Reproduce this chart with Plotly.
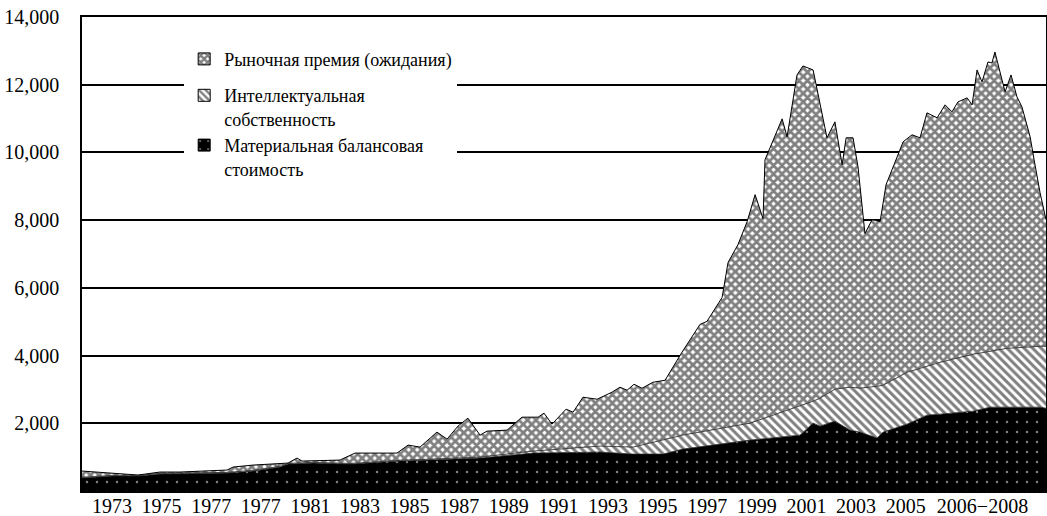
import plotly.graph_objects as go

# ---- Data (billions) ----
# Tangible book value (bottom layer) and intellectual property (middle layer)
book_years = [1971.79, 1973.0, 1974.05, 1974.94, 1977.64, 1978.69, 1979.77, 1980.10, 1981.10, 1982.60,
              1984.61, 1985.82, 1987.84, 1989.98, 1992.68, 1994.01, 1995.22, 1996.02, 1998.73, 2000.74,
              2001.27, 2001.55, 2002.15, 2002.75, 2003.16, 2003.85, 2004.09, 2005.06, 2005.86, 2006.39,
              2007.72, 2008.40, 2009.09, 2010.42, 2010.66]
tangible_book = [383, 442, 442, 501, 530, 589, 707, 796, 825, 796,
                 884, 914, 973, 1120, 1150, 1090, 1090, 1238, 1503, 1650,
                 2004, 1916, 2063, 1798, 1739, 1562, 1739, 1974, 2240, 2269,
                 2358, 2475, 2475, 2475, 2446]
intellectual = [20, 20, 20, 20, 20, 20, 20, 20, 20, 20,
                20, 29, 29, 59, 177, 206, 413, 413, 501, 855,
                648, 825, 943, 1267, 1297, 1532, 1385, 1532, 1444, 1532,
                1680, 1650, 1739, 1798, 1827]

# Total market value (top boundary of the market-premium layer)
market_years = [1971.79, 1973.04, 1974.05, 1974.94, 1975.74, 1977.64, 1977.88, 1978.69, 1979.77, 1980.10,
                1980.46, 1980.66, 1982.19, 1982.80, 1984.49, 1984.94, 1985.42, 1986.10, 1986.51, 1986.95,
                1987.35, 1987.84, 1988.12, 1988.93, 1989.53, 1990.18, 1990.42, 1990.74, 1991.31, 1991.59,
                1991.99, 1992.56, 1993.16, 1993.48, 1993.77, 1994.05, 1994.37, 1994.81, 1995.30, 1995.98,
                1996.71, 1996.99, 1997.60, 1997.84, 1998.24, 1998.61, 1998.93, 1999.25, 1999.33, 2000.02,
                2000.22, 2000.62, 2000.86, 2001.27, 2001.83, 2002.15, 2002.44, 2002.60, 2002.88, 2003.08,
                2003.36, 2003.65, 2003.97, 2004.21, 2004.90, 2005.26, 2005.58, 2005.86, 2006.27, 2006.59,
                2006.87, 2007.11, 2007.48, 2007.68, 2007.88, 2008.08, 2008.32, 2008.48, 2008.60, 2008.73,
                2009.01, 2009.25, 2009.49, 2009.69, 2009.90, 2010.02, 2010.18, 2010.42, 2010.66]
market_value = [589, 530, 472, 560, 560, 619, 707, 766, 796, 825,
                973, 884, 914, 1120, 1120, 1356, 1297, 1739, 1532, 1916,
                2151, 1650, 1768, 1798, 2181, 2181, 2299, 1974, 2417, 2328,
                2770, 2711, 2918, 3065, 2977, 3153, 3035, 3212, 3271, 4096,
                4921, 5010, 5717, 6749, 7279, 7957, 8753, 8045, 9784, 10992,
                10462, 12289, 12554, 12436, 10432, 10904, 9637, 10432, 10432, 9578,
                7603, 8016, 7957, 9047, 10315, 10521, 10432, 11169, 11022, 11405,
                11199, 11493, 11611, 11405, 12436, 12083, 12672, 12643, 12967, 12613,
                11788, 12289, 11641, 11346, 10757, 10462, 9784, 8812, 8016]

series_names = ["Рыночная премия (ожидания)",
                "Интеллектуальная<br>собственность",
                "Материальная балансовая<br>стоимость"]
legend_groups = ["premium", "assets", "assets"]

tick_years = [1973, 1975, 1977, 1979, 1981, 1983, 1985, 1987, 1989, 1991, 1993, 1995, 1997,
              1999, 2001, 2003, 2005, 2008.1]
tick_labels = ["1973", "1975", "1977", "1977", "1981", "1983", "1985", "1987", "1989", "1991",
               "1993", "1995", "1997", "1999", "2001", "2003", "2005", "2006\u22122008"]
y_ticks = [2000, 4000, 6000, 8000, 10000, 12000, 14000]

# ---- Patterns ----
pat_premium = dict(shape="x", size=6, solidity=0.72, fgcolor="black", bgcolor="white")
pat_ip = dict(shape="\\", size=6, solidity=0.5, fgcolor="black", bgcolor="white")
pat_book = dict(shape=".", size=10, solidity=0.05, fgcolor="white", bgcolor="black")

book_plus_ip = [b + i for b, i in zip(tangible_book, intellectual)]

fig = go.Figure()
fig.add_trace(go.Scatter(x=book_years, y=tangible_book, mode="lines",
                         line=dict(color="#222222", width=0.8),
                         fill="tozeroy", fillpattern=pat_book, showlegend=False,
                         hoverinfo="skip"))
fig.add_trace(go.Scatter(x=book_years, y=book_plus_ip, mode="lines",
                         line=dict(color="#222222", width=0.8),
                         fill="tonexty", fillpattern=pat_ip, showlegend=False,
                         hoverinfo="skip"))
fig.add_trace(go.Scatter(x=market_years, y=market_value, mode="lines",
                         line=dict(color="black", width=1),
                         fill="tonexty", fillpattern=pat_premium, showlegend=False,
                         hoverinfo="skip"))

# legend proxies (square swatches)
for name, grp, pat in zip(series_names, legend_groups, [pat_premium, pat_ip, pat_book]):
    fig.add_trace(go.Bar(x=[None], y=[None], name=name, legendgroup=grp,
                         marker=dict(color="white", pattern=pat,
                                     line=dict(color="black", width=1))))

font_family = "Liberation Serif"
fig.update_layout(
    width=1047, height=516,
    margin=dict(l=82, r=1, t=17, b=25, autoexpand=False),
    paper_bgcolor="white", plot_bgcolor="white",
    font=dict(family=font_family, size=20, color="black"),
    showlegend=True,
    legend=dict(x=0.106, y=0.95, xanchor="left", yanchor="top",
                bgcolor="white", borderwidth=0, valign="top",
                font=dict(family=font_family, size=18, color="black"),
                traceorder="grouped", tracegroupgap=10),
)
fig.update_xaxes(range=[1971.79, 2010.66], tickmode="array", tickvals=tick_years,
                 ticktext=tick_labels, showgrid=False, zeroline=False,
                 showline=True, linecolor="black", linewidth=1.5, mirror=True,
                 ticks="", tickfont=dict(family=font_family, size=20),
                 automargin=False, ticklabelstandoff=-4, ticklabeloverflow="allow")
fig.update_yaxes(range=[0, 14000], tickmode="array", tickvals=y_ticks,
                 ticktext=[f"{v:,}" for v in y_ticks], showgrid=True,
                 gridcolor="black", gridwidth=1.5, zeroline=False,
                 showline=True, linecolor="black", linewidth=1.5, mirror=True,
                 ticks="", ticklabelstandoff=17, tickfont=dict(family=font_family, size=20),
                 automargin=False, ticklabeloverflow="allow")

fig.write_html("out.html", config={"displayModeBar": False},
               post_script="document.body.style.margin='0px';")
